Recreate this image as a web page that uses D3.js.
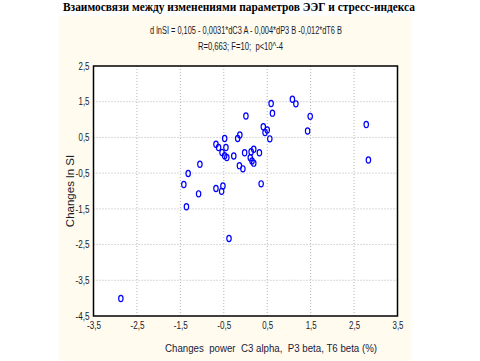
<!DOCTYPE html>
<html><head><meta charset="utf-8">
<script src="https://cdn.jsdelivr.net/npm/d3@7"></script>
<style>body{margin:0;background:#fff}svg{display:block}text{white-space:pre}</style>
</head><body>
<svg id="c" width="480" height="361"></svg>
<script>
const title = "Взаимосвязи между изменениями параметров ЭЭГ и стресс-индекса";
const eqLine1 = "d lnSI = 0,105 - 0,0031*dC3 A - 0,004*dP3 B -0,012*dT6 B";
const eqLine2 = "R=0,663; F=10;  p<10^-4";
const xLabel = "Changes  power  C3 alpha,  P3 beta, T6 beta (%)";
const yLabel = "Changes ln SI";
const xTicks = [-3.5, -2.5, -1.5, -0.5, 0.5, 1.5, 2.5, 3.5];
const yTicks = [-4.5, -3.5, -2.5, -1.5, -0.5, 0.5, 1.5, 2.5];
const xVals = [0.01,0.41,0.50,0.45,0.56,0.59,0.62,1.08,1.16,1.49,1.43,2.78,2.83,-0.48,-0.18,-0.13,-0.68,-0.62,-0.45,-0.54,-0.48,-0.43,-0.27,-0.02,0.13,0.19,0.11,0.15,0.32,0.19,-0.14,-0.06,-1.05,-1.32,-1.42,-1.08,-0.68,-0.52,-0.55,0.36,-1.36,-0.38,-2.87];
const yVals = [1.10,0.80,0.71,0.64,0.46,1.45,1.18,1.57,1.44,1.09,0.68,0.86,-0.13,0.47,0.47,0.57,0.31,0.22,0.22,0.08,-0.01,-0.06,-0.02,0.07,0.10,0.17,-0.07,-0.16,0.07,-0.22,-0.29,-0.38,-0.25,-0.51,-0.82,-1.08,-0.93,-0.86,-1.01,-0.80,-1.44,-2.33,-4.01];

const svg = d3.select("#c");
const L = 93.5, R = 397.5, T = 66, B = 316;
const x = d3.scaleLinear().domain([-3.5, 3.5]).range([L, R]);
const y = d3.scaleLinear().domain([-4.5, 2.5]).range([B, T]);
const fmt = d => d3.format(".1f")(d).replace(".", ",").replace("−", "-");
const tickFont = "'Liberation Sans',Arial,sans-serif";

// cream background
svg.append("rect").attr("x", 59).attr("y", 16).attr("width", 352).attr("height", 345).attr("fill", "#fffbef");
// plot area
svg.append("rect").attr("x", L).attr("y", T).attr("width", R - L).attr("height", B - T).attr("fill", "#fff");

// grid
const g = svg.append("g");
g.selectAll("line.gx").data(xTicks.slice(1, -1)).join("line")
  .attr("x1", d => x(d)).attr("x2", d => x(d)).attr("y1", T).attr("y2", B)
  .attr("stroke", "#b4b4b4").attr("stroke-width", 1).attr("stroke-dasharray", "1,2");
g.selectAll("line.gy").data(yTicks.slice(1, -1)).join("line")
  .attr("y1", d => y(d)).attr("y2", d => y(d)).attr("x1", L).attr("x2", R)
  .attr("stroke", "#b4b4b4").attr("stroke-width", 1).attr("stroke-dasharray", "1,2");

// axes (labels only)
const xAxis = d3.axisBottom(x).tickValues(xTicks).tickFormat(fmt).tickSize(0).tickPadding(6);
const yAxis = d3.axisLeft(y).tickValues(yTicks).tickFormat(fmt).tickSize(0).tickPadding(4);
const gx = svg.append("g").attr("transform", `translate(0,${B})`).call(xAxis);
const gy = svg.append("g").attr("transform", `translate(${L},0)`).call(yAxis);
[gx, gy].forEach(a => {
  a.select(".domain").remove();
  a.selectAll("text").attr("font-family", tickFont).attr("font-size", 10).attr("fill", "#1a1a2a")
    .attr("textLength", 14).attr("lengthAdjust", "spacingAndGlyphs");
});
gx.selectAll("text").filter(d => d > 0).attr("textLength", 11);
gy.selectAll("text").filter(d => d > 0).attr("textLength", 11);

// frame
svg.append("rect").attr("x", L).attr("y", T).attr("width", R - L).attr("height", B - T)
  .attr("fill", "none").attr("stroke", "#000").attr("stroke-width", 1.5);

// points
svg.append("g").selectAll("ellipse").data(xVals.map((v, i) => [v, yVals[i]])).join("ellipse")
  .attr("cx", d => x(d[0])).attr("cy", d => y(d[1])).attr("rx", 2.2).attr("ry", 3.1)
  .attr("fill", "none").attr("stroke", "#0000ff").attr("stroke-width", 1.2);

// texts
svg.append("text").attr("x", 239).attr("y", 11).attr("text-anchor", "middle")
  .attr("font-family", "'Liberation Serif','Times New Roman',serif").attr("font-weight", "bold")
  .attr("font-size", 12.5).attr("fill", "#000")
  .attr("textLength", 352).attr("lengthAdjust", "spacingAndGlyphs").text(title);
svg.append("text").attr("x", 246).attr("y", 34).attr("text-anchor", "middle")
  .attr("font-family", tickFont).attr("font-size", 10).attr("fill", "#1a1a2a")
  .attr("textLength", 192).attr("lengthAdjust", "spacingAndGlyphs").text(eqLine1);
svg.append("text").attr("x", 240.5).attr("y", 50).attr("text-anchor", "middle")
  .attr("font-family", tickFont).attr("font-size", 10).attr("fill", "#1a1a2a")
  .attr("textLength", 85).attr("lengthAdjust", "spacingAndGlyphs").text(eqLine2);
svg.append("text").attr("x", 271).attr("y", 352).attr("text-anchor", "middle")
  .attr("font-family", tickFont).attr("font-size", 10).attr("fill", "#1a1a3a")
  .attr("textLength", 212).attr("lengthAdjust", "spacingAndGlyphs").text(xLabel);
svg.append("text").attr("transform", "translate(74,191) rotate(-90)").attr("text-anchor", "middle")
  .attr("font-family", tickFont).attr("font-size", 11.5).attr("fill", "#1a1a2a").text(yLabel);
</script>
</body></html>
